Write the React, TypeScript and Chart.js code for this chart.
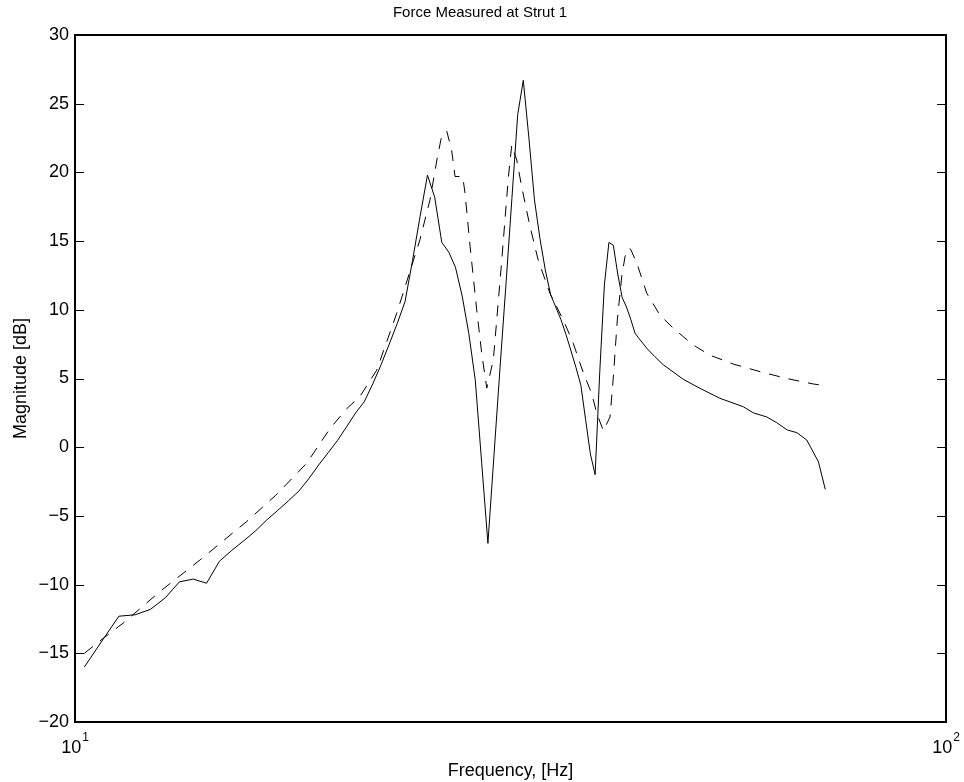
import React, { useEffect, useRef } from 'react';
import { Chart, registerables } from 'chart.js';

Chart.register(...registerables);

// Measured force (solid line)
const measuredFreq = [
  10.25, 10.74, 11.23, 11.72, 12.21, 12.70, 13.18, 13.67, 14.16, 14.65,
  15.14, 15.63, 16.11, 16.60, 17.09, 17.58, 18.07, 18.55, 19.04, 19.53,
  20.02, 20.51, 21.00, 21.48, 21.97, 22.46, 22.95, 23.44, 23.93, 24.41,
  24.90, 25.39, 25.88, 26.37, 26.86, 27.34, 27.83, 28.32, 28.81, 29.30,
  29.79, 30.27, 30.76, 31.25, 31.74, 32.23, 32.71, 33.20, 33.69, 34.18,
  34.67, 35.16, 35.64, 36.13, 36.62, 37.11, 37.60, 38.09, 38.57, 39.06,
  39.55, 40.04, 40.53, 41.02, 41.50, 41.99, 42.48, 42.97, 43.46, 43.95,
  44.43, 45.41, 46.30, 47.36, 49.93, 52.20, 55.00, 58.50, 60.10, 62.27,
  63.90, 65.75, 67.41, 69.21, 71.37, 72.68,
];
const measuredDb = [
  -16.0, -14.1, -12.3, -12.2, -11.8, -10.95, -9.8, -9.6, -9.9, -8.3,
  -7.5, -6.8, -6.1, -5.3, -4.6, -3.9, -3.2, -2.3, -1.3, -0.4,
  0.5, 1.5, 2.5, 3.3, 4.6, 6.0, 7.5, 9.0, 10.6, 13.6,
  16.8, 19.8, 18.2, 14.9, 14.2, 13.1, 11.0, 8.3, 4.9, -1.1,
  -7.0, -0.6, 5.8, 11.9, 18.1, 24.2, 26.7, 22.5, 18.0, 15.2,
  12.9, 11.1, 10.2, 9.3, 8.2, 7.0, 5.8, 4.5, 2.0, -0.5,
  -2.0, 5.5, 11.8, 14.9, 14.7, 12.6, 10.9, 10.2, 9.3, 8.3,
  7.9, 7.15, 6.6, 6.0, 4.94, 4.28, 3.56, 2.95, 2.5, 2.2,
  1.79, 1.25, 1.06, 0.52, -1.06, -3.07,
];

// Model prediction (dashed line)
const modelFreq = [
  10.25, 10.78, 11.36, 12.52, 13.92, 15.75, 17.00, 18.45, 19.63, 20.51,
  21.24, 22.20, 23.41, 24.89, 25.56, 26.03, 26.37, 26.72, 27.07, 27.31,
  27.87, 28.04, 28.42, 28.92, 29.31, 29.70, 30.22, 30.90, 31.45, 31.73,
  32.15, 32.57, 33.30, 34.03, 35.10, 36.36, 37.33, 38.01, 38.34, 39.20,
  39.72, 40.42, 41.14, 41.50, 41.94, 42.43, 42.80, 43.18, 43.45, 44.16,
  45.34, 46.96, 48.64, 51.26, 53.57, 57.00, 61.16, 65.63, 70.42, 72.68,
];
const modelDb = [
  -15.0, -13.9, -12.8, -10.5, -8.2, -5.4, -3.5, -1.17, 1.37, 2.8,
  3.7, 5.6, 9.75, 15.1, 18.0, 20.9, 22.7, 23.0, 21.6, 19.7,
  19.7, 18.5, 14.6, 10.0, 6.8, 4.3, 6.35, 13.6, 19.7, 22.0,
  20.9, 18.96, 16.05, 13.6, 11.2, 9.26, 7.56, 6.1, 5.4, 3.9,
  2.47, 1.2, 2.2, 5.1, 9.26, 12.4, 13.86, 14.48, 14.4, 13.4,
  11.2, 9.6, 8.65, 7.44, 6.7, 6.05, 5.5, 5.0, 4.6, 4.48,
];

const yTickValues = [-20, -15, -10, -5, 0, 5, 10, 15, 20, 25, 30];
const xTickValues = [10, 100];
const xTickExponents = ['1', '2'];

const FONT = '"Liberation Sans", Arial, Helvetica, sans-serif';

const frame = {
  id: 'frame',
  afterDatasetsDraw(chart: any) {
    const { ctx, chartArea: a, scales } = chart;
    ctx.save();
    ctx.strokeStyle = '#000';
    ctx.lineWidth = 1;
    ctx.beginPath();
    yTickValues.forEach((v) => {
      const y = Math.round(scales.y.getPixelForValue(v)) + 0.5;
      ctx.moveTo(a.left, y);
      ctx.lineTo(a.left + 9, y);
      ctx.moveTo(a.right, y);
      ctx.lineTo(a.right - 9, y);
    });
    ctx.stroke();
    ctx.lineWidth = 2;
    ctx.strokeRect(a.left, a.top, a.right - a.left, a.bottom - a.top);
    // x tick labels as 10 with superscript exponent
    ctx.fillStyle = '#000';
    ctx.textBaseline = 'alphabetic';
    ctx.textAlign = 'left';
    xTickValues.forEach((v, i) => {
      const x = scales.x.getPixelForValue(v);
      ctx.font = `18px ${FONT}`;
      const base = '10';
      const wb = ctx.measureText(base).width;
      ctx.font = `12px ${FONT}`;
      const we = ctx.measureText(xTickExponents[i]).width;
      const start = x - (wb + we + 1) / 2;
      ctx.font = `18px ${FONT}`;
      ctx.fillText(base, start, a.bottom + 31);
      ctx.font = `12px ${FONT}`;
      ctx.fillText(xTickExponents[i], start + wb + 1, a.bottom + 19);
    });
    ctx.restore();
  },
};

export default function App() {
  const ref = useRef<HTMLCanvasElement>(null);
  useEffect(() => {
    if (!ref.current) return;
    const chart = new Chart(ref.current, {
      type: 'line',
      data: {
        datasets: [
          {
            label: 'Measured',
            data: measuredFreq.map((f, i) => ({ x: f, y: measuredDb[i] })),
            borderColor: '#000',
            borderWidth: 1,
            pointRadius: 0,
            tension: 0,
            fill: false,
          },
          {
            label: 'Model',
            data: modelFreq.map((f, i) => ({ x: f, y: modelDb[i] })),
            borderColor: '#000',
            borderWidth: 1,
            borderDash: [11, 9],
            pointRadius: 0,
            tension: 0,
            fill: false,
          },
        ],
      },
      options: {
        animation: false,
        responsive: false,
        devicePixelRatio: 1,
        layout: { padding: { left: 14, right: 18, top: 0, bottom: 0 } },
        plugins: {
          legend: { display: false },
          tooltip: { enabled: false },
          title: {
            display: true,
            text: 'Force Measured at Strut 1',
            color: '#000',
            font: { family: FONT, size: 15, weight: 'normal' },
            padding: { top: 3.5, bottom: 13.5 },
          },
        },
        scales: {
          x: {
            type: 'logarithmic',
            min: 10,
            max: 100,
            grid: { display: false, drawTicks: false },
            border: { display: false },
            ticks: { display: false },
            title: {
              display: true,
              text: 'Frequency, [Hz]',
              color: '#000',
              font: { family: FONT, size: 18 },
              padding: { top: 0, bottom: 0 },
            },
            afterFit: (s: any) => {
              s.height = 60;
            },
          },
          y: {
            type: 'linear',
            min: -20,
            max: 30,
            grid: { display: false, drawTicks: false },
            border: { display: false },
            afterBuildTicks: (s: any) => {
              s.ticks = yTickValues.map((v) => ({ value: v }));
            },
            ticks: {
              color: '#000',
              font: { family: FONT, size: 18 },
              padding: 6,
              callback: (v: any) => String(v).replace('-', '\u2212'),
            },
            title: {
              display: true,
              text: 'Magnitude [dB]',
              color: '#000',
              font: { family: FONT, size: 18 },
              padding: { top: -4, bottom: 0 },
            },
            afterFit: (s: any) => {
              s.width = 61;
            },
          },
        },
      },
      plugins: [frame],
    });
    return () => chart.destroy();
  }, []);
  return (
    <div style={{ position: 'fixed', left: 0, top: 0, width: 964, height: 782, background: '#fff' }}>
      <canvas ref={ref} width={964} height={782} style={{ width: 964, height: 782 }} />
    </div>
  );
}
